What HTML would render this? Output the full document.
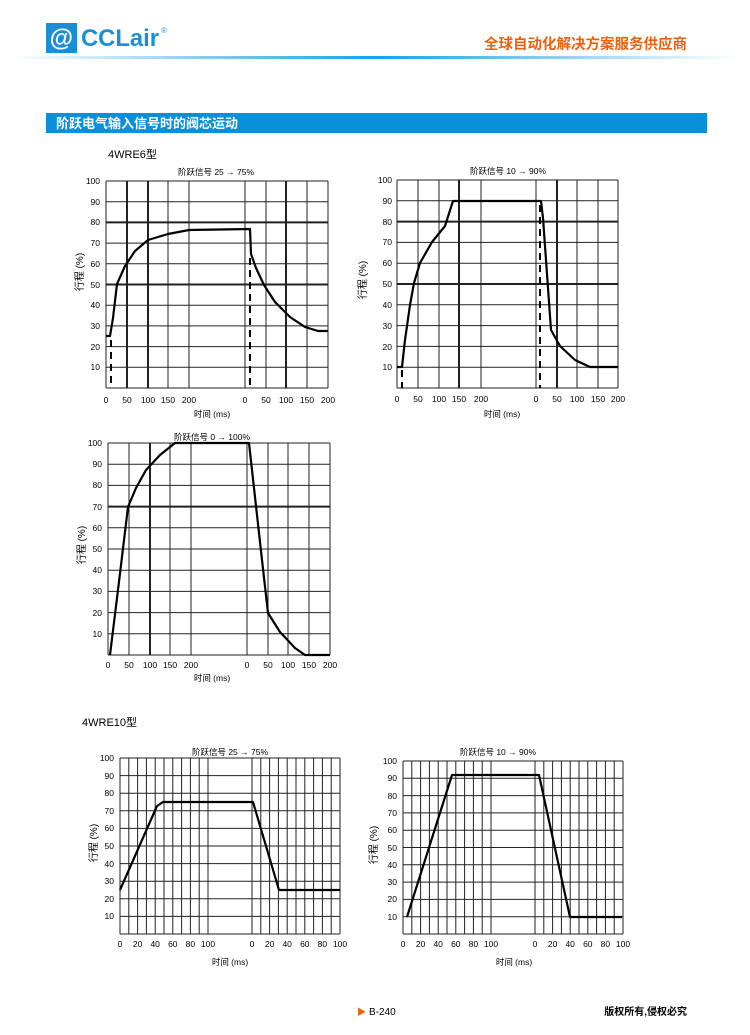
<!DOCTYPE html>
<html><head><meta charset="utf-8"><style>
body{margin:0;background:#fff;width:750px;height:1035px;overflow:hidden;font-family:"Liberation Sans","Noto Sans CJK SC",sans-serif}
svg{position:absolute;left:0;top:0}
</style></head><body>
<svg width="750" height="1035" viewBox="0 0 750 1035" xmlns="http://www.w3.org/2000/svg" font-family="Liberation Sans, Noto Sans CJK SC, sans-serif">
<defs><linearGradient id="g" x1="0" x2="1"><stop offset="0" stop-color="#fff"/><stop offset="0.5" stop-color="#1aa0e8"/><stop offset="1" stop-color="#fff"/></linearGradient></defs>
<!-- header -->
<rect x="46" y="23" width="31" height="30" fill="#1a8fd8"/>
<text x="61" y="46" fill="#fff" font-size="24" font-style="italic" font-weight="bold" text-anchor="middle">@</text>
<text x="81" y="46" fill="#1a8fd8" font-size="24" font-weight="bold" textLength="78" lengthAdjust="spacingAndGlyphs">CCLair</text>
<text x="161" y="33" fill="#1a8fd8" font-size="8">®</text>
<text x="687" y="49" fill="#e8630f" font-size="14.5" font-weight="bold" text-anchor="end">全球自动化解决方案服务供应商</text>
<rect x="10" y="56" width="730" height="3" fill="url(#g)"/>
<rect x="46" y="113" width="661" height="20" fill="#0a8fd8"/>
<text x="56" y="128" fill="#fff" font-size="13" font-weight="bold">阶跃电气输入信号时的阀芯运动</text>
<text x="108" y="158" font-size="11">4WRE6型</text>
<text x="82" y="726" font-size="11">4WRE10型</text>

<g fill="none" stroke="#222" stroke-width="1">
<path d="M106,181H328M106,201.7H328M106,222.4H328M106,243.1H328M106,263.8H328M106,305.2H328M106,325.9H328M106,346.6H328M106,367.3H328M106,388H328M106,181V388M168,181V388M189,181V388M245,181V388M266,181V388M307,181V388M328,181V388"/>
<path d="M106,284.5H328M106,222.4H328M127,181V388M148,181V388M286,181V388" stroke-width="2"/>
<path d="M397,180H618M397,200.8H618M397,221.6H618M397,242.4H618M397,263.2H618M397,304.8H618M397,325.6H618M397,346.4H618M397,367.2H618M397,388H618M397,180V388M418,180V388M439,180V388M481,180V388M536,180V388M577,180V388M598,180V388M618,180V388"/>
<path d="M397,284H618M397,221.6H618M459,180V388M557,180V388" stroke-width="2"/>
<path d="M108,443H330M108,464.2H330M108,485.4H330M108,527.8H330M108,549H330M108,570.2H330M108,591.4H330M108,612.6H330M108,633.8H330M108,655H330M108,443V655M129,443V655M170,443V655M191,443V655M247,443V655M268,443V655M288,443V655M309,443V655M330,443V655"/>
<path d="M108,506.6H330M150,443V655" stroke-width="2"/>
<path d="M120,758H340M120,775.6H340M120,793.2H340M120,810.8H340M120,828.4H340M120,846H340M120,863.6H340M120,881.2H340M120,898.8H340M120,916.4H340M120,934H340M120,758V934M128.8,758V934M137.6,758V934M146.4,758V934M155.2,758V934M164,758V934M172.8,758V934M181.6,758V934M190.4,758V934M199.2,758V934M208,758V934M252,758V934M260.8,758V934M269.6,758V934M278.4,758V934M287.2,758V934M296,758V934M304.8,758V934M313.6,758V934M322.4,758V934M331.2,758V934M340,758V934"/>
<path d="M403,761H623M403,778.3H623M403,795.6H623M403,812.9H623M403,830.2H623M403,847.5H623M403,864.8H623M403,882.1H623M403,899.4H623M403,916.7H623M403,934H623M403,761V934M411.8,761V934M420.6,761V934M429.4,761V934M438.2,761V934M447,761V934M455.8,761V934M464.6,761V934M473.4,761V934M482.2,761V934M491,761V934M535,761V934M543.8,761V934M552.6,761V934M561.4,761V934M570.2,761V934M579,761V934M587.8,761V934M596.6,761V934M605.4,761V934M614.2,761V934M623,761V934"/>
</g>
<g fill="none" stroke="#000" stroke-width="2.2" stroke-linejoin="round">
<path d="M106,336L110,336L113,318L117,284L125,266L135,251L148,240L168,234L189,230L250,229L251,254L256,268L264,285L275,302L290,317L305,327L318,331L328,331"/>
<path d="M397,367L402,367L405,340L410,305L414,283L420,263L432,242L445,226L453,201L541,201L543,218L551,330L560,346L575,360L590,367L618,367"/>
<path d="M110,655L118,590L128,507L136,488L146,470L160,455L175,443L249,443L262,560L268,613L280,632L295,648L305,655L330,655"/>
<path d="M120,890L157,806L163,802L253,802L279,890L340,890"/>
<path d="M407,917L452,775L539,775L570,917L622,917"/>
</g>
<g stroke="#000" stroke-width="2" stroke-dasharray="7,5">
<path d="M111,340V388M250,258V388M402,370V388M540,205V388"/>
</g>
<g font-size="8.5" fill="#000">
<g text-anchor="end">
<text x="100" y="184">100</text><text x="100" y="205">90</text><text x="100" y="225">80</text><text x="100" y="246">70</text><text x="100" y="267">60</text><text x="100" y="288">50</text><text x="100" y="308">40</text><text x="100" y="329">30</text><text x="100" y="350">20</text><text x="100" y="370">10</text>
<text x="392" y="183">100</text><text x="392" y="204">90</text><text x="392" y="225">80</text><text x="392" y="245">70</text><text x="392" y="266">60</text><text x="392" y="287">50</text><text x="392" y="308">40</text><text x="392" y="329">30</text><text x="392" y="350">20</text><text x="392" y="370">10</text>
<text x="102" y="446">100</text><text x="102" y="467">90</text><text x="102" y="488">80</text><text x="102" y="510">70</text><text x="102" y="531">60</text><text x="102" y="552">50</text><text x="102" y="573">40</text><text x="102" y="594">30</text><text x="102" y="616">20</text><text x="102" y="637">10</text>
<text x="114" y="761">100</text><text x="114" y="779">90</text><text x="114" y="796">80</text><text x="114" y="814">70</text><text x="114" y="831">60</text><text x="114" y="849">50</text><text x="114" y="867">40</text><text x="114" y="884">30</text><text x="114" y="902">20</text><text x="114" y="919">10</text>
<text x="397" y="764">100</text><text x="397" y="781">90</text><text x="397" y="799">80</text><text x="397" y="816">70</text><text x="397" y="833">60</text><text x="397" y="851">50</text><text x="397" y="868">40</text><text x="397" y="885">30</text><text x="397" y="902">20</text><text x="397" y="920">10</text>
</g>
<g text-anchor="middle">
<text x="106" y="403">0</text><text x="127" y="403">50</text><text x="148" y="403">100</text><text x="168" y="403">150</text><text x="189" y="403">200</text><text x="245" y="403">0</text><text x="266" y="403">50</text><text x="286" y="403">100</text><text x="307" y="403">150</text><text x="328" y="403">200</text>
<text x="397" y="402">0</text><text x="418" y="402">50</text><text x="439" y="402">100</text><text x="459" y="402">150</text><text x="481" y="402">200</text><text x="536" y="402">0</text><text x="557" y="402">50</text><text x="577" y="402">100</text><text x="598" y="402">150</text><text x="618" y="402">200</text>
<text x="108" y="668">0</text><text x="129" y="668">50</text><text x="150" y="668">100</text><text x="170" y="668">150</text><text x="191" y="668">200</text><text x="247" y="668">0</text><text x="268" y="668">50</text><text x="288" y="668">100</text><text x="309" y="668">150</text><text x="330" y="668">200</text>
<text x="120" y="947">0</text><text x="137.6" y="947">20</text><text x="155.2" y="947">40</text><text x="172.8" y="947">60</text><text x="190.4" y="947">80</text><text x="208" y="947">100</text><text x="252" y="947">0</text><text x="269.6" y="947">20</text><text x="287.2" y="947">40</text><text x="304.8" y="947">60</text><text x="322.4" y="947">80</text><text x="340" y="947">100</text>
<text x="403" y="947">0</text><text x="420.6" y="947">20</text><text x="438.2" y="947">40</text><text x="455.8" y="947">60</text><text x="473.4" y="947">80</text><text x="491" y="947">100</text><text x="535" y="947">0</text><text x="552.6" y="947">20</text><text x="570.2" y="947">40</text><text x="587.8" y="947">60</text><text x="605.4" y="947">80</text><text x="623" y="947">100</text>
<text x="216" y="175">阶跃信号 25 → 75%</text>
<text x="508" y="174">阶跃信号 10 → 90%</text>
<text x="212" y="440">阶跃信号 0 → 100%</text>
<text x="230" y="755">阶跃信号 25 → 75%</text>
<text x="498" y="755">阶跃信号 10 → 90%</text>
<text x="212" y="417">时间 (ms)</text>
<text x="502" y="417">时间 (ms)</text>
<text x="212" y="681">时间 (ms)</text>
<text x="230" y="965">时间 (ms)</text>
<text x="514" y="965">时间 (ms)</text>
</g>
<g font-size="10" text-anchor="middle">
<text transform="translate(83,272) rotate(-90)">行程 (%)</text>
<text transform="translate(366,280) rotate(-90)">行程 (%)</text>
<text transform="translate(85,545) rotate(-90)">行程 (%)</text>
<text transform="translate(97,843) rotate(-90)">行程 (%)</text>
<text transform="translate(377,845) rotate(-90)">行程 (%)</text>
</g>
</g>
<text x="357" y="1015" fill="#e8630f" font-size="9">▶</text>
<text x="369" y="1015" font-size="10">B-240</text>
<text x="687" y="1015" font-size="10" font-weight="bold" text-anchor="end">版权所有,侵权必究</text>
</svg>
</body></html>
